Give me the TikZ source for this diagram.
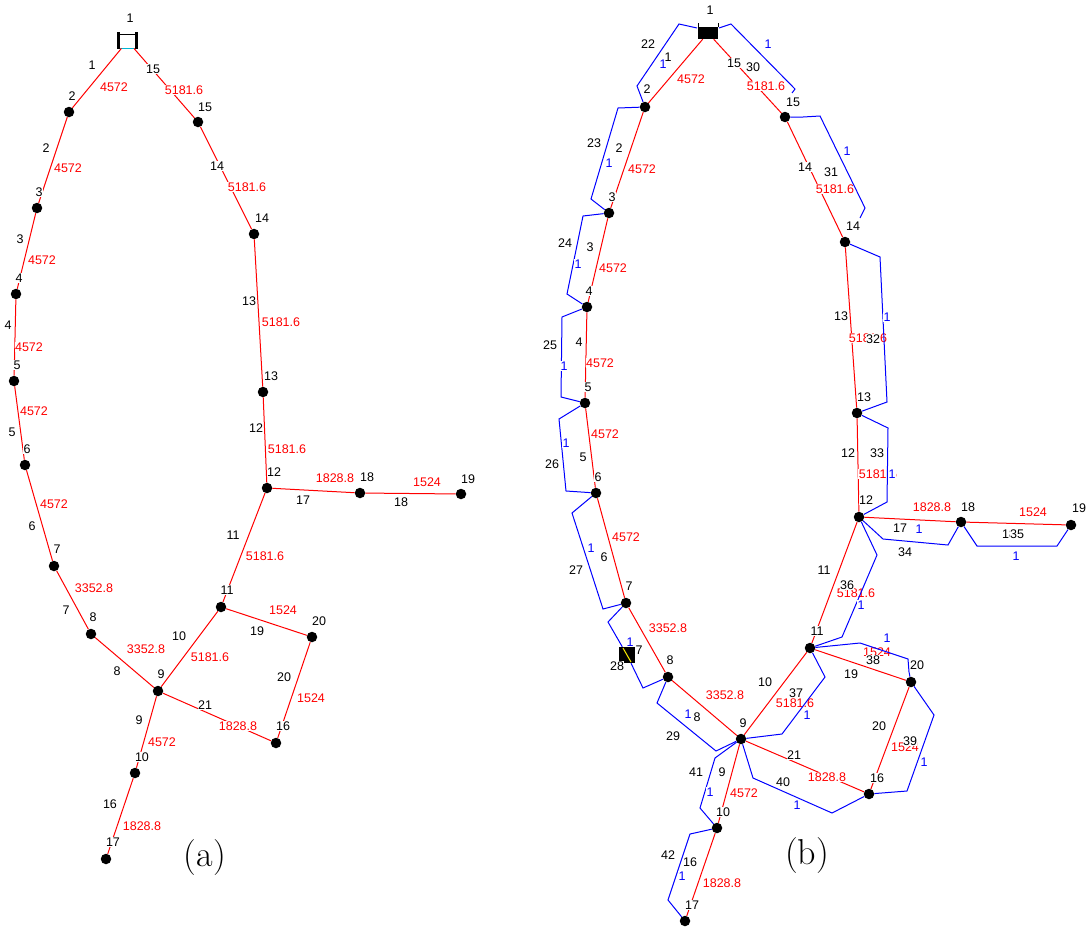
\documentclass[tikz,border=0pt]{standalone}
\usepackage{fontspec}
\newfontfamily\labfont{Liberation Sans}
\begin{document}
\begin{tikzpicture}[x=1pt,y=-1pt,
  dot/.style={circle,fill=black,inner sep=0pt,minimum size=10.5pt},
  pipe/.style={red,line width=1pt},
  loopl/.style={blue,line width=1pt},
  lbl/.style={font=\labfont\fontsize{12.5}{14}\selectfont,fill=white,inner sep=0.4pt},
  rlab/.style={lbl,text=red},
  blab/.style={lbl,text=blue},
  klab/.style={lbl,text=black},
  captxt/.style={font=\fontsize{36}{40}\selectfont,inner sep=0pt}
]
\useasboundingbox (0,0) rectangle (1086,927);

% ================= (a) =================
\node[draw,line width=0.8pt,minimum width=18pt,minimum height=14pt,inner sep=0pt] (a1) at (127.5,41) {};
\draw[line width=2.5pt] (118.5,32) -- (118.5,49) (136.5,32) -- (136.5,49);
\draw[line width=1pt,color={rgb,255:red,0;green,180;blue,210}] (120,48.5) -- (135,48.5);
\node[dot] (a2) at (69,112) {};
\node[dot] (a3) at (37,208) {};
\node[dot] (a4) at (16,294) {};
\node[dot] (a5) at (14,381) {};
\node[dot] (a6) at (25,465) {};
\node[dot] (a7) at (54,566) {};
\node[dot] (a8) at (91,634) {};
\node[dot] (a9) at (158,691) {};
\node[dot] (a10) at (135,773) {};
\node[dot] (a17) at (106,859) {};
\node[dot] (a11) at (221,607) {};
\node[dot] (a20) at (312,637) {};
\node[dot] (a16) at (276,743) {};
\node[dot] (a12) at (267,488) {};
\node[dot] (a13) at (263,392) {};
\node[dot] (a14) at (254,234) {};
\node[dot] (a15) at (198,122) {};
\node[dot] (a18) at (360,493) {};
\node[dot] (a19) at (461,494) {};

\draw[pipe] (a1) -- (a2) -- (a3) -- (a4) -- (a5) -- (a6) -- (a7) -- (a8) -- (a9) -- (a10) -- (a17);
\draw[pipe] (a1) -- (a15) -- (a14) -- (a13) -- (a12) -- (a11) -- (a9);
\draw[pipe] (a12) -- (a18) -- (a19);
\draw[pipe] (a11) -- (a20) -- (a16) -- (a9);

% red labels (a)
\node[rlab] at (114,87) {4572};
\node[rlab] at (184,90) {5181.6};
\node[rlab] at (68,168) {4572};
\node[rlab] at (247,187) {5181.6};
\node[rlab] at (42,260) {4572};
\node[rlab] at (281,322) {5181.6};
\node[rlab] at (29,347) {4572};
\node[rlab] at (34,411) {4572};
\node[rlab] at (287,449) {5181.6};
\node[rlab] at (335,478) {1828.8};
\node[rlab] at (427,482) {1524};
\node[rlab] at (54,504) {4572};
\node[rlab] at (265,556) {5181.6};
\node[rlab] at (94,588) {3352.8};
\node[rlab] at (283,610) {1524};
\node[rlab] at (146,649) {3352.8};
\node[rlab] at (210,657) {5181.6};
\node[rlab] at (311,698) {1524};
\node[rlab] at (238,726) {1828.8};
\node[rlab] at (162,742) {4572};
\node[rlab] at (142,826) {1828.8};

% black edge labels (a)
\node[klab] at (92,65) {1};
\node[klab] at (153,69) {15};
\node[klab] at (46,148) {2};
\node[klab] at (217,166) {14};
\node[klab] at (20,239) {3};
\node[klab] at (249,301) {13};
\node[klab] at (8,325) {4};
\node[klab] at (12,432) {5};
\node[klab] at (256,428) {12};
\node[klab] at (303,500) {17};
\node[klab] at (401,502) {18};
\node[klab] at (32,526) {6};
\node[klab] at (233,535) {11};
\node[klab] at (66,610) {7};
\node[klab] at (257,631) {19};
\node[klab] at (179,636) {10};
\node[klab] at (117,671) {8};
\node[klab] at (284,677) {20};
\node[klab] at (205,705) {21};
\node[klab] at (139,720) {9};
\node[klab] at (110,804) {16};

% node labels (a)
\node[klab] at (130,18) {1};
\node[klab] at (72,96) {2};
\node[klab] at (39,192) {3};
\node[klab] at (19,278) {4};
\node[klab] at (17,365) {5};
\node[klab] at (27,449) {6};
\node[klab] at (57,549) {7};
\node[klab] at (93,617) {8};
\node[klab] at (161,674) {9};
\node[klab] at (142,757) {10};
\node[klab] at (227,590) {11};
\node[klab] at (274,472) {12};
\node[klab] at (271,376) {13};
\node[klab] at (262,218) {14};
\node[klab] at (205,107) {15};
\node[klab] at (283,726) {16};
\node[klab] at (113,842) {17};
\node[klab] at (367,477) {18};
\node[klab] at (468,479) {19};
\node[klab] at (319,621) {20};

\node[captxt] (capa) at (205,858) {(a)};

% ================= (b) =================
\node[fill=black,minimum width=20pt,minimum height=12pt,inner sep=0pt] (b1) at (708,33) {};
\draw[line width=1pt] (698.5,23) -- (698.5,27) (718.5,23) -- (718.5,27);
\node[dot] (b2) at (645,107) {};
\node[dot] (b3) at (609,213) {};
\node[dot] (b4) at (587,307) {};
\node[dot] (b5) at (585,403) {};
\node[dot] (b6) at (596,493) {};
\node[dot] (b7) at (626,603) {};
\node[dot] (b8) at (668,677) {};
\node[dot] (b9) at (741,739) {};
\node[dot] (b10) at (717,828) {};
\node[dot] (b17) at (685,921) {};
\node[dot] (b11) at (810,648) {};
\node[dot] (b20) at (911,682) {};
\node[dot] (b16) at (869,794) {};
\node[dot] (b12) at (859,517) {};
\node[dot] (b13) at (857,413) {};
\node[dot] (b14) at (845,242) {};
\node[dot] (b15) at (785,117) {};
\node[dot] (b18) at (961,522) {};
\node[dot] (b19) at (1071,525) {};
\node[fill=black,minimum size=16pt,inner sep=0pt] (b28) at (627,655) {};
\draw[yellow,line width=1pt] (623,648) -- (631,662);

\draw[pipe] (b1) -- (b2) -- (b3) -- (b4) -- (b5) -- (b6) -- (b7) -- (b8) -- (b9) -- (b10) -- (b17);
\draw[pipe] (b1) -- (b15) -- (b14) -- (b13) -- (b12) -- (b11) -- (b9);
\draw[pipe] (b12) -- (b18) -- (b19);
\draw[pipe] (b11) -- (b20) -- (b16) -- (b9);

% red labels (b)
\node[rlab] at (691,79) {4572};
\node[rlab] at (766,86) {5181.6};
\node[rlab] at (642,169) {4572};
\node[rlab] at (613,268) {4572};
\node[rlab] at (835,189) {5181.6};
\node[rlab] at (600,363) {4572};
\node[rlab] at (605,434) {4572};
\node[rlab] at (626,537) {4572};
\node[rlab] at (668,628) {3352.8};
\node[rlab] at (725,695) {3352.8};
\node[rlab] at (868,338) {5181.6};
\node[rlab] at (878,474) {5181.6};
\node[rlab] at (932,507) {1828.8};
\node[rlab] at (1033,512) {1524};
\node[rlab] at (856,593) {5181.6};
\node[rlab] at (877,652) {1524};
\node[rlab] at (795,703) {5181.6};
\node[rlab] at (905,747) {1524};
\node[rlab] at (827,777) {1828.8};
\node[rlab] at (744,793) {4572};
\node[rlab] at (722,883) {1828.8};

% blue loops
\draw[loopl] (b2) -- (637,86) -- (679,24) -- (697,28);
\draw[loopl] (719,28) -- (731,24) -- (795,89) -- (792,93);
\draw[loopl] (b15) -- (803,117) -- (820,116) -- (865,208) -- (860,218);
\draw[loopl] (b14) -- (880,257) -- (887,402) -- (b13);
\draw[loopl] (b13) -- (888,428) -- (887,502) -- (b12);
\draw[loopl] (b12) -- (883,539) -- (948,545) -- (b18);
\draw[loopl] (b18) -- (977,546) -- (1057,546) -- (b19);
\draw[loopl] (b12) -- (877,555) -- (842,637) -- (b11);
\draw[loopl] (b11) -- (825,677) -- (782,734) -- (b9);
\draw[loopl] (b11) -- (860,643) -- (908,659) -- (909,672) -- (b20);
\draw[loopl] (b20) -- (934,715) -- (907,791) -- (b16);
\draw[loopl] (b9) -- (753,778) -- (832,813) -- (b16);
\draw[loopl] (b9) -- (715,758) -- (700,808) -- (b10);
\draw[loopl] (b10) -- (690,834) -- (668,900) -- (b17);
\draw[loopl] (b8) -- (657,703) -- (716,751) -- (b9);
\draw[loopl] (b7) -- (608,622) -- (b28) -- (643,688) -- (b8);
\draw[loopl] (b6) -- (572,513) -- (603,609) -- (b7);
\draw[loopl] (b5) -- (559,419) -- (566,491) -- (b6);
\draw[loopl] (b4) -- (562,317) -- (561,397) -- (b5);
\draw[loopl] (b3) -- (583,216) -- (567,294) -- (b4);
\draw[loopl] (b2) -- (618,108) -- (591,199) -- (b3);

% blue labels (b)
\foreach \p in {(663,64),(768,44),(847,151),(887,317),(892,474),(919,529),(1016,556),(861,605),(807,715),(887,638),(924,762),(797,805),(710,792),(682,876),(688,714),(630,642),(591,548),(566,443),(564,366),(578,264),(609,163)}
  \node[blab] at \p {1};

% black loop numbers (b)
\node[klab] at (648,44) {22};
\node[klab] at (594,143) {23};
\node[klab] at (565,243) {24};
\node[klab] at (550,345) {25};
\node[klab] at (552,464) {26};
\node[klab] at (576,570) {27};
\node[klab] at (617,666) {28};
\node[klab] at (673,736) {29};
\node[klab] at (753,67) {30};
\node[klab] at (831,172) {31};
\node[klab] at (873,339) {32};
\node[klab] at (877,453) {33};
\node[klab] at (905,552) {34};
\node[klab] at (796,693) {37};
\node[klab] at (873,660) {38};
\node[klab] at (910,741) {39};
\node[klab] at (783,782) {40};
\node[klab] at (696,772) {41};
\node[klab] at (668,855) {42};
\node[klab] at (847,585) {36};

% black edge labels (b)
\node[klab] at (668,57) {1};
\node[klab] at (734,63) {15};
\node[klab] at (619,148) {2};
\node[klab] at (590,247) {3};
\node[klab] at (805,167) {14};
\node[klab] at (579,342) {4};
\node[klab] at (583,457) {5};
\node[klab] at (604,557) {6};
\node[klab] at (639,650) {7};
\node[klab] at (697,717) {8};
\node[klab] at (841,316) {13};
\node[klab] at (848,453) {12};
\node[klab] at (900,528) {17};
\node[klab] at (1009,534) {18};
\node[klab] at (1017,534) {35};
\node[klab] at (824,570) {11};
\node[klab] at (851,674) {19};
\node[klab] at (765,682) {10};
\node[klab] at (879,726) {20};
\node[klab] at (794,755) {21};
\node[klab] at (722,772) {9};
\node[klab] at (690,862) {16};

% node labels (b)
\node[klab] at (710,10) {1};
\node[klab] at (647,89) {2};
\node[klab] at (612,197) {3};
\node[klab] at (589,291) {4};
\node[klab] at (588,387) {5};
\node[klab] at (598,477) {6};
\node[klab] at (629,586) {7};
\node[klab] at (670,660) {8};
\node[klab] at (743,723) {9};
\node[klab] at (723,812) {10};
\node[klab] at (817,631) {11};
\node[klab] at (866,500) {12};
\node[klab] at (864,397) {13};
\node[klab] at (853,226) {14};
\node[klab] at (793,102) {15};
\node[klab] at (877,778) {16};
\node[klab] at (692,905) {17};
\node[klab] at (968,507) {18};
\node[klab] at (1079,508) {19};
\node[klab] at (917,665) {20};

\node[captxt] (capb) at (807,856) {(b)};
\end{tikzpicture}
\end{document}
